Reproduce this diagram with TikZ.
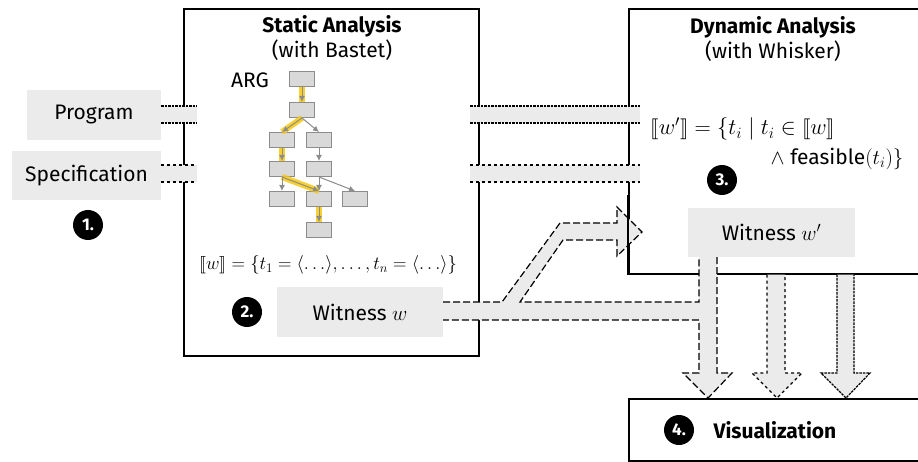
\RequirePackage{fix-cm}
\documentclass[tikz,border=0pt]{standalone}
\usepackage{amsmath}
\usepackage{stmaryrd}
\usepackage[no-math]{fontspec}
\setmainfont{Fira Sans}
\usetikzlibrary{arrows.meta}

\definecolor{bandgray}{HTML}{EBEBEB}
\definecolor{argfill}{HTML}{D9D9D9}
\definecolor{argline}{HTML}{8C8C8C}
\definecolor{hilite}{HTML}{F9C80E}

\tikzset{
  box/.style={draw=black, line width=1.6pt, fill=white, inner sep=0pt},
  graybox/.style={fill=bandgray, inner sep=0pt},
  title/.style={font=\bfseries\fontsize{21}{25}\selectfont},
  argnode/.style={draw=argline, fill=argfill, line width=1pt, minimum width=25pt, minimum height=15pt, inner sep=0pt},
  argedge/.style={draw=argline, line width=1pt, -{Latex[length=6pt,width=6pt]}},
  argpath/.style={draw=hilite, line width=6pt, opacity=.85},
  stepnum/.style={circle, fill=black, text=white, minimum size=30pt, inner sep=0pt, font=\bfseries\fontsize{17}{17}\selectfont},
  band/.style={fill=bandgray},
  progline/.style={line width=1.2pt, dash pattern=on 2.5pt off 1pt},
  specline/.style={line width=1.2pt, dash pattern=on 3pt off 3pt},
  witline/.style={line width=1.2pt, dash pattern=on 7pt off 3pt},
  formula/.style={font=\fontsize{18.6}{22}\selectfont},
}

\begin{document}
\begin{tikzpicture}[x=1pt, y=-1pt, font=\fontsize{21}{25}\selectfont]
\useasboundingbox (0,0) rectangle (918,462);
\clip (0,0) rectangle (918,462);

% the three boxes
\node[box, anchor=north west, minimum width=295pt, minimum height=347pt] (static) at (183,8) {};
\node[box, anchor=north west, minimum width=300pt, minimum height=265pt] (dynamic) at (628,8) {};
\node[box, anchor=north west, minimum width=300pt, minimum height=62pt] (vis) at (628,398) {};

\node[title] (stitle) at (332,26) {Static Analysis};
\node (ssub) at (332,50) {(with Bastet)};
\node[title] (dtitle) at (773,27) {Dynamic Analysis};
\node (dsub) at (773,51) {(with Whisker)};

% ARG
\node (arg) at (250,80) {ARG};
\node[argnode] (a1) at (302,79) {};
\node[argnode] (a2) at (302,110) {};
\node[argnode] (a3) at (282,140) {};
\node[argnode] (a4) at (319,140) {};
\node[argnode] (a5) at (282,169) {};
\node[argnode] (a6) at (319,169) {};
\node[argnode] (a7) at (282,199) {};
\node[argnode] (a8) at (319,199) {};
\node[argnode] (a9) at (355,199) {};
\node[argnode] (a10) at (319,230) {};

\draw[argpath] (a1.south) -- (a2.north);
\draw[argpath] (a2.south) -- (a3.north);
\draw[argpath] (a3.south) -- (a5.north);
\draw[argpath] (a5.south) -- (a8.north);
\draw[argpath] (a8.south) -- (a10.north);

\draw[argedge] (a1.south) -- (a2.north);
\draw[argedge] (a2.south) -- (a3.north);
\draw[argedge] (a2.south) -- (a4.north);
\draw[argedge] (a3.south) -- (a5.north);
\draw[argedge] (a4.south) -- (a6.north);
\draw[argedge] (a5.south) -- (a7.north);
\draw[argedge] (a5.south) -- (a8.north);
\draw[argedge] (a6.south) -- (a8.north);
\draw[argedge] (a6.south) -- (a9.north);
\draw[argedge] (a8.south) -- (a10.north);

\node[formula] (wsem) at (328,265) {$\llbracket w\rrbracket=\{t_1=\langle\ldots\rangle,\ldots,t_n=\langle\ldots\rangle\}$};
\node[formula, anchor=west, font=\fontsize{22.5}{26}\selectfont] (wpsem) at (647,129) {$\llbracket w'\rrbracket=\{t_i\mid t_i\in\llbracket w\rrbracket$};
\node[formula, anchor=east, font=\fontsize{21}{24}\selectfont] (wpfeas) at (907,159) {$\land\ \text{feasible}(t_i)\}$};

% inputs
\node[graybox, minimum width=134pt, minimum height=50pt] (prog) at (94,115) {Program};
\node[graybox, minimum width=149pt, minimum height=49pt] (spec) at (86.5,175.5) {Specification};

\fill[band] (prog.east |- 0,106) rectangle (197,123);
\draw[progline] (prog.east |- 0,106) -- (197,106) (prog.east |- 0,123) -- (197,123);
\fill[band] (470,106) rectangle (640,123);
\draw[progline] (470,106) -- (640,106) (470,123) -- (640,123);

\fill[band] (spec.east |- 0,165) rectangle (197,182);
\draw[specline] (spec.east |- 0,165) -- (197,165) (spec.east |- 0,182) -- (197,182);
\fill[band] (470,165) rectangle (640,182);
\draw[specline] (470,165) -- (640,165) (470,182) -- (640,182);

% witnesses
\node[graybox, minimum width=167pt, minimum height=49pt] (witp) at (771.5,232.5) {Witness $w'$};

\fill[band] (443,302) -- (502,302) -- (560,223) -- (617,223) -- (617,207) -- (642,232)
  -- (617,256) -- (617,240) -- (563,240) -- (520,302) -- (699,302) -- (witp.south -| 699,0)
  -- (witp.south -| 717,0) -- (717,373) -- (732,373) -- (vis.north -| 708,0) -- (683,373)
  -- (699,373) -- (699,320) -- (443,320) -- cycle;
\draw[witline] (443,302) -- (502,302) -- (560,223) -- (617,223) -- (617,207) -- (642,232)
  -- (617,256) -- (617,240) -- (563,240) -- (520,302) -- (699,302) -- (witp.south -| 699,0);
\draw[witline] (witp.south -| 717,0) -- (717,373) -- (732,373) -- (vis.north -| 708,0)
  -- (683,373) -- (699,373) -- (699,320) -- (443,320);
\draw[line width=1.6pt] (dynamic.west |- 0,195) -- (dynamic.south west);

\fill[band] (dynamic.south -| 767,0) -- (767,373) -- (752,373) -- (vis.north -| 777,0)
  -- (802,373) -- (785,373) -- (dynamic.south -| 785,0) -- cycle;
\draw[specline] (dynamic.south -| 767,0) -- (767,373) -- (752,373) -- (vis.north -| 777,0)
  -- (802,373) -- (785,373) -- (dynamic.south -| 785,0);

\fill[band] (dynamic.south -| 837,0) -- (837,373) -- (821,373) -- (vis.north -| 846,0)
  -- (870,373) -- (854,373) -- (dynamic.south -| 854,0) -- cycle;
\draw[progline] (dynamic.south -| 837,0) -- (837,373) -- (821,373) -- (vis.north -| 846,0)
  -- (870,373) -- (854,373) -- (dynamic.south -| 854,0);

\node[graybox, minimum width=166pt, minimum height=50pt] (wit) at (360,312) {Witness $w$};

% steps
\node[stepnum] (s1) at (88,225) {1.};
\node[stepnum] (s2) at (247,312) {2.};
\node[stepnum] (s3) at (722,180) {3.};
\node[stepnum] (s4) at (679,430) {4.};
\node[title, anchor=west] (vistext) at (710,430) {Visualization};
\end{tikzpicture}
\end{document}
